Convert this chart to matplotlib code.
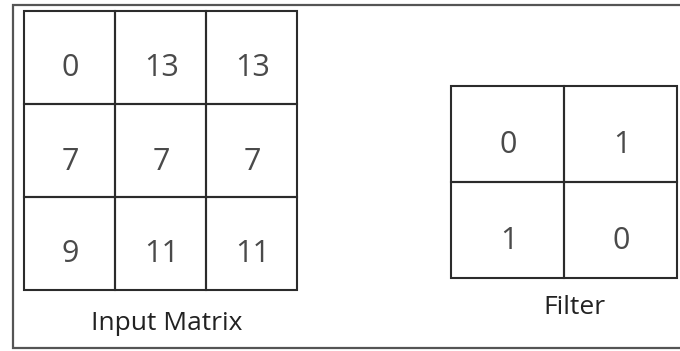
import matplotlib.pyplot as plt
from matplotlib.patches import Rectangle

# values shown in the two grids
input_matrix = [[0, 13, 13],
                [7, 7, 7],
                [9, 11, 11]]
filter_matrix = [[0, 1],
                 [1, 0]]
input_label = 'Input Matrix'
filter_label = 'Filter'

plt.rcParams['font.family'] = ['Open Sans', 'DejaVu Sans']

fig = plt.figure(figsize=(6.8, 3.51), dpi=100)
ax = fig.add_axes([0, 0, 1, 1])
ax.set_xlim(0, 680)
ax.set_ylim(351, 0)
ax.axis('off')

line_col = '#2b2b2b'
text_col = '#4a4a4a'

# outer frame (open on the right, like the cropped original)
ax.plot([680, 13, 13, 680], [5, 5, 348, 348], color='#555555', lw=1.6,
        solid_joinstyle='miter')


def draw_grid(values, x0, y0, cw, ch, fs):
    for r, row in enumerate(values):
        for c, v in enumerate(row):
            ax.add_patch(Rectangle((x0 + c * cw, y0 + r * ch), cw, ch,
                                   fill=False, ec=line_col, lw=1.5))
            ax.text(x0 + (c + 0.5) * cw + 1, y0 + (r + 0.5) * ch + 11, str(v),
                    ha='center', va='center', fontsize=fs, color=text_col)


draw_grid(input_matrix, 24, 11, 91, 93, 22)
draw_grid(filter_matrix, 451, 86, 113, 96, 22)

ax.text(167, 323, input_label, ha='center', va='center', fontsize=19,
        color='#222222')
ax.text(574, 307, filter_label, ha='center', va='center', fontsize=19,
        color='#222222')

fig.savefig('out.png', dpi=100)
